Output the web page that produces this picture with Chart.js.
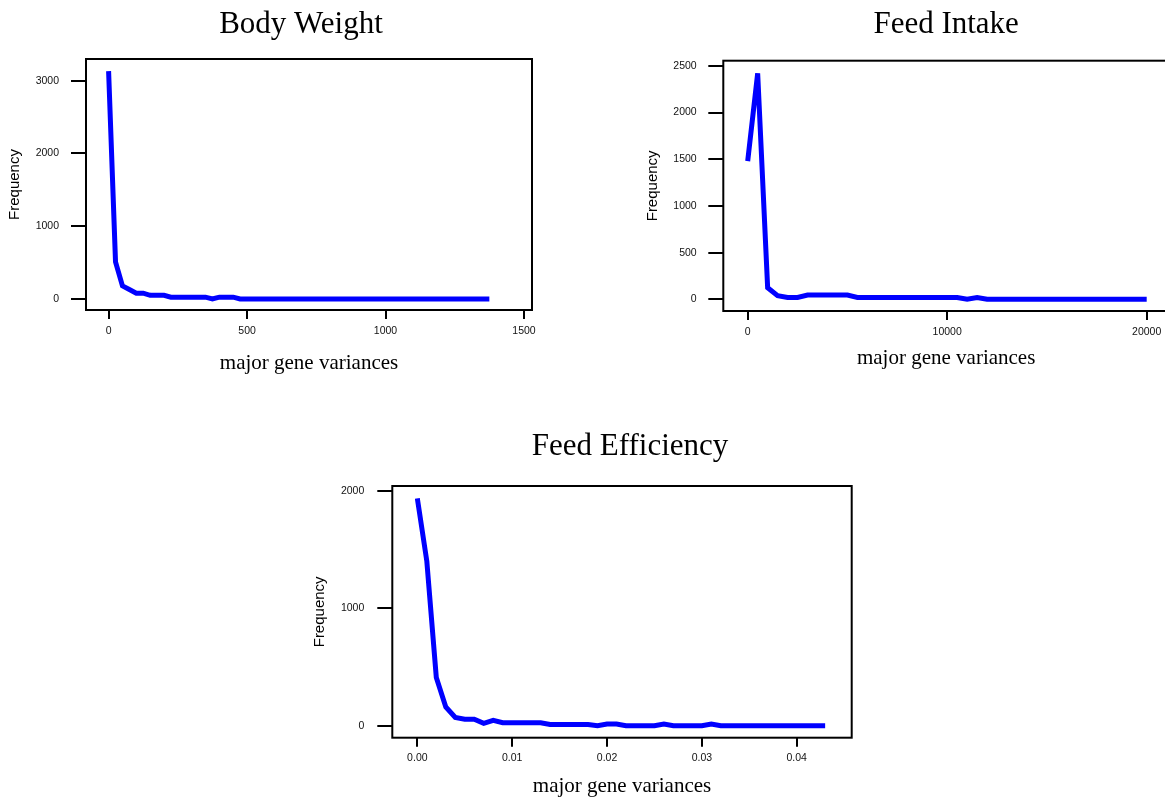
<!DOCTYPE html>
<html><head><meta charset="utf-8">
<script src="https://cdn.jsdelivr.net/npm/chart.js@4.4.1/dist/chart.umd.min.js"></script>
<style>
html,body{margin:0;padding:0;background:#fff;overflow:hidden;width:1165px;height:798px;position:relative;}
canvas{position:absolute;display:block;}
</style></head><body>
<canvas id="bw" width="602" height="400" style="left:0;top:0;width:602px;height:400px"></canvas>
<canvas id="fi" width="550" height="400" style="left:640px;top:0;width:550px;height:400px"></canvas>
<canvas id="fe" width="660" height="410" style="left:300px;top:400px;width:660px;height:410px"></canvas>
<script>
// ---- Body Weight ----
const bwVariance = [0,25,50,75,100,125,150,175,200,225,250,275,300,325,350,375,400,425,450,475,
  500,525,550,575,600,625,650,675,700,725,750,775,800,825,850,875,900,925,950,975,
  1000,1025,1050,1075,1100,1125,1150,1175,1200,1225,1250,1275,1300,1325,1350,1375];
const bwFrequency = [3130,510,180,130,80,80,50,50,50,25,25,25,25,25,25,0,25,25,25,0,
  0,0,0,0,0,0,0,0,0,0,0,0,0,0,0,0,0,0,0,0,
  0,0,0,0,0,0,0,0,0,0,0,0,0,0,0,0];
const bwXTicks = [0,500,1000,1500];
const bwXTickLabels = ['0','500','1000','1500'];
const bwYTicks = [0,1000,2000,3000];
const bwYTickLabels = ['0','1000','2000','3000'];

// ---- Feed Intake ----
const fiVariance = [0,500,1000,1500,2000,2500,3000,3500,4000,4500,5000,5500,6000,6500,7000,7500,8000,8500,9000,9500,
  10000,10500,11000,11500,12000,12500,13000,13500,14000,14500,15000,15500,16000,16500,17000,17500,18000,18500,19000,19500,20000];
const fiFrequency = [1480,2420,125,40,20,20,45,45,45,45,45,20,20,20,20,20,20,20,20,20,
  20,20,0,20,0,0,0,0,0,0,0,0,0,0,0,0,0,0,0,0,0];
const fiXTicks = [0,10000,20000];
const fiXTickLabels = ['0','10000','20000'];
const fiYTicks = [0,500,1000,1500,2000,2500];
const fiYTickLabels = ['0','500','1000','1500','2000','2500'];

// ---- Feed Efficiency ----
const feVariance = [0.000,0.001,0.002,0.003,0.004,0.005,0.006,0.007,0.008,0.009,0.010,0.011,0.012,0.013,0.014,
  0.015,0.016,0.017,0.018,0.019,0.020,0.021,0.022,0.023,0.024,0.025,0.026,0.027,0.028,0.029,0.030,
  0.031,0.032,0.033,0.034,0.035,0.036,0.037,0.038,0.039,0.040,0.041,0.042,0.043];
const feFrequency = [1935,1400,410,160,70,55,55,20,45,25,25,25,25,25,10,
  10,10,10,10,0,15,15,0,0,0,0,15,0,0,0,0,
  15,0,0,0,0,0,0,0,0,0,0,0,0];
const feXTicks = [0,0.01,0.02,0.03,0.04];
const feXTickLabels = ['0.00','0.01','0.02','0.03','0.04'];
const feYTicks = [0,1000,2000];
const feYTickLabels = ['0','1000','2000'];

const framePlugin = {
  id: 'frame',
  afterDraw(chart) {
    const {ctx, chartArea: a} = chart;
    ctx.save();
    ctx.strokeStyle = '#000';
    ctx.lineWidth = 2;
    ctx.strokeRect(a.left, a.top, a.right - a.left, a.bottom - a.top);
    ctx.restore();
  }
};

const SANS = "'Liberation Sans', Arial, sans-serif";
const SERIF = "'Liberation Serif', 'Times New Roman', serif";

function makeChart(id, xs, ys, o) {
  const pts = xs.map((x, i) => ({x: x, y: ys[i]}));
  const scales = {
    x: {
      type: 'linear', min: o.xMin, max: o.xMax,
      afterBuildTicks: s => { s.ticks = o.xTicks.map(v => ({value: v})); },
      afterFit: s => { s.height = o.xHeight; },
      grid: { display: true, drawOnChartArea: false, drawTicks: true, tickLength: 9, tickWidth: 2, tickColor: '#000', color: '#000', lineWidth: 2 },
      border: { display: false },
      ticks: { autoSkip: false, maxRotation: 0, color: '#111', padding: o.xTickPad,
               font: { family: SANS, size: 10.5 }, callback: (v, i) => o.xLabels[i] },
      title: { display: true, text: 'major gene variances', color: '#000',
               font: { family: SERIF, size: 21, weight: 'normal' }, padding: { top: 0, bottom: o.xTitlePad } }
    },
    y: {
      type: 'linear', position: 'left', min: o.yMin, max: o.yMax,
      afterBuildTicks: s => { s.ticks = o.yTicks.map(v => ({value: v})); },
      afterFit: s => { s.width = o.yWidth; },
      grid: { display: true, drawOnChartArea: false, drawTicks: true, tickLength: 15, tickWidth: 2, tickColor: '#000', color: '#000', lineWidth: 2 },
      border: { display: false },
      ticks: { autoSkip: false, color: '#111', padding: o.yTickPad,
               font: { family: SANS, size: 10.5 }, callback: (v, i) => o.yLabels[i] },
      title: { display: true, text: 'Frequency', color: '#000',
               font: { family: SANS, size: 15, weight: 'normal' }, padding: { top: o.freqPad, bottom: 0 } }
    }
  };
  if (o.rightSpace) {
    // empty right-hand margin (no ticks, no labels) so the title can sit where the original has it
    scales.margin = {
      type: 'linear', position: 'right', display: true,
      afterFit: s => { s.width = o.rightSpace; },
      grid: { display: false }, border: { display: false },
      ticks: { display: false }, title: { display: false }
    };
  }
  return new Chart(document.getElementById(id), {
    type: 'line',
    data: { datasets: [{ data: pts, borderColor: '#0000ff', borderWidth: 5, pointRadius: 0, tension: 0, fill: false }] },
    plugins: [framePlugin],
    options: {
      responsive: false, animation: false, devicePixelRatio: 1,
      layout: { padding: o.layoutPad },
      plugins: {
        legend: { display: false }, tooltip: { enabled: false },
        title: { display: true, text: o.title, color: '#000', fullSize: o.fullSize,
                 font: { family: SERIF, size: 31, weight: 'normal' }, padding: o.titlePad }
      },
      scales: scales
    }
  });
}

makeChart('bw', bwVariance, bwFrequency, {
  title: 'Body Weight', fullSize: true, titlePad: {top: 6.4, bottom: 15.4},
  layoutPad: {left: 0, top: 0, right: 0, bottom: 0}, rightSpace: 70,
  xMin: -81.6, xMax: 1529, yMin: -151, yMax: 3297,
  xTicks: bwXTicks, xLabels: bwXTickLabels, yTicks: bwYTicks, yLabels: bwYTickLabels,
  xHeight: 90, yWidth: 86, yTickPad: 12, freqPad: 6, xTickPad: 5.7, xTitlePad: 24.4
});

makeChart('fi', fiVariance, fiFrequency, {
  title: 'Feed Intake', fullSize: false, titlePad: {top: 6.4, bottom: 17.1},
  layoutPad: {left: 0, top: 0, right: 21, bottom: 0}, rightSpace: 0,
  xMin: -1223, xMax: 21118, yMin: -125, yMax: 2555,
  xTicks: fiXTicks, xLabels: fiXTickLabels, yTicks: fiYTicks, yLabels: fiYTickLabels,
  xHeight: 89, yWidth: 83.3, yTickPad: 11.6, freqPad: 4, xTickPad: 5.7, xTitlePad: 29.4
});

makeChart('fe', feVariance, feFrequency, {
  title: 'Feed Efficiency', fullSize: true, titlePad: {top: 28.4, bottom: 20.4},
  layoutPad: {left: 0, top: 0, right: 0, bottom: 0}, rightSpace: 108.3,
  xMin: -0.00264, xMax: 0.0458, yMin: -102, yMax: 2040,
  xTicks: feXTicks, xLabels: feXTickLabels, yTicks: feYTicks, yLabels: feYTickLabels,
  xHeight: 72.3, yWidth: 92.3, yTickPad: 13, freqPad: 11, xTickPad: 4.7, xTitlePad: 11.4
});
</script>
</body></html>
